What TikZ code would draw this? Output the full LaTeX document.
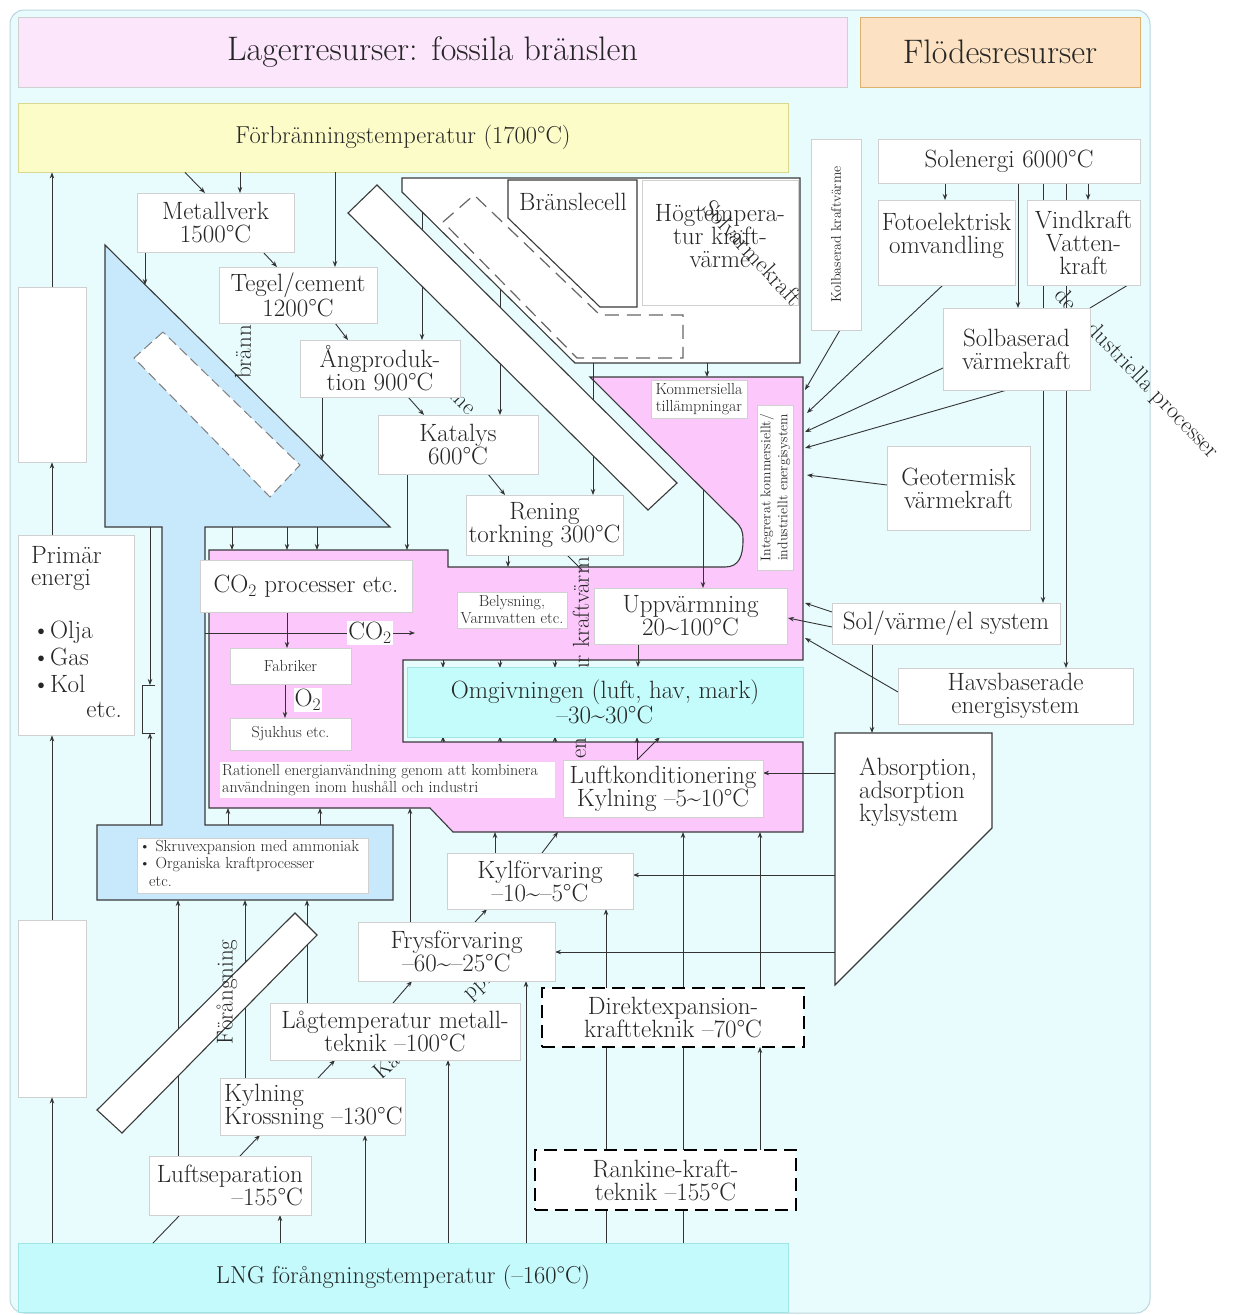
\documentclass[tikz,border=0pt]{standalone}
\usetikzlibrary{arrows.meta}
\newcommand\fz[2]{\fontsize{#1}{#2}\selectfont}
\definecolor{bgc}{HTML}{E8FCFD}
\definecolor{bgb}{HTML}{BBD5DD}
\definecolor{pinkT}{HTML}{FCE6FC}
\definecolor{orT}{HTML}{FCE2C2}
\definecolor{orB}{HTML}{E0B070}
\definecolor{yel}{HTML}{FCFCC8}
\definecolor{yelB}{HTML}{D8D890}
\definecolor{lngc}{HTML}{C4FAFC}
\definecolor{pk}{HTML}{FCC8FC}
\definecolor{bl}{HTML}{C8E8FC}
\definecolor{cy}{HTML}{C4FCFC}
\definecolor{cyB}{HTML}{A0E4E4}
\definecolor{bxb}{HTML}{D0D0D0}
\definecolor{lnc}{HTML}{333333}
\definecolor{shc}{HTML}{3A3A3A}
\definecolor{txt}{HTML}{262626}
\begin{document}
\begin{tikzpicture}[x=1pt,y=-1pt,
  every node/.style={text=txt},
  box/.style={draw=bxb, line width=0.8pt, fill=white, inner sep=0pt, align=center, font=\fz{25}{23}},
  sbox/.style={box, font=\fz{16}{17}},
  txtn/.style={inner sep=0pt, font=\fz{25}{23}},
  stxt/.style={inner sep=0pt, font=\fz{16}{17}},
  arr/.style={draw=lnc, line width=0.9pt, -{Stealth[length=6pt,width=4.5pt]}},
  conn/.style={draw=lnc, line width=0.9pt},
  shp/.style={draw=shc, line width=1.1pt},
  dbox/.style={box, draw=black, line width=2.2pt, dash pattern=on 13pt off 7pt},
  frag/.style={inner sep=0pt, font=\fz{23}{24}}
]
\useasboundingbox (0,0) rectangle (1235,1315);
\fill[white] (0,0) rectangle (1235,1315);
\draw[fill=bgc, draw=bgb, line width=1pt, rounded corners=14pt] (10,10) rectangle (1150,1313);

% headers
\node[box, fill=pinkT, minimum width=829, minimum height=70, font=\fz{34}{36}] (title1) at (432.5,52) {Lagerresurser: fossila bränslen};
\node[box, fill=orT, draw=orB, minimum width=280, minimum height=70, font=\fz{34}{36}] (title2) at (1000,52) {Flödesresurser};
\node[box, fill=yel, draw=yelB, minimum width=770, minimum height=69, font=\fz{24.5}{26}] (yellow) at (403,137.5) {Förbränningstemperatur (1700°C)};
\node[box, fill=lngc, draw=cyB, minimum width=770, minimum height=69, font=\fz{24.5}{26}] (lng) at (403,1277.5) {LNG förångningstemperatur (–160°C)};

% big shapes
\draw[shp, fill=bl] (105,245) -- (390,527) -- (205,527) -- (205,825) -- (393,825) -- (393,900) -- (97,900) -- (97,825) -- (162,825) -- (162,527) -- (105,527) -- cycle;
\draw[draw=gray, fill=white, line width=1pt, dash pattern=on 10pt off 5pt] (163,332) -- (134,358) -- (270,497) -- (300,465) -- cycle;
\draw[shp, fill=pk] (209,550) -- (448,550) -- (448,567) -- (725,567) .. controls (739,567) and (743,556) .. (743,540) .. controls (743,530) and (741,527) .. (735,521) -- (590,377) -- (803,377) -- (803,660) -- (403,660) -- (403,742) -- (803,742) -- (803,832) -- (453,832) -- (430,808) -- (209,808) -- cycle;
\draw[shp, fill=white] (402,178) -- (800,178) -- (800,363) -- (575,363) -- (402,192) -- cycle;
\node[box, minimum width=156, minimum height=125] (hog) at (720,242.5) {};
\node[txtn, align=center] (hogt) at (720,236) {Högtempera-\\tur kraft-\\värme};
\draw[shp, fill=white] (508,180) -- (637,180) -- (637,307) -- (600,307) -- (508,218) -- cycle;
\node[txtn] (bran) at (573,202) {Bränslecell};
\draw[draw=gray!80!black, line width=1.2pt, dash pattern=on 14pt off 8pt] (443,222) -- (474,195) -- (600,315) -- (683,315) -- (683,358) -- (577,358) -- cycle;
\draw[shp, fill=white] (835,733) -- (992,733) -- (992,828) -- (835,985) -- cycle;
\node[txtn, anchor=north west, align=left] (abst) at (859,758) {Absorption,\\adsorption\\kylsystem};

% text fragments (partly hidden)
\node[frag, rotate=90] (fragA) at (243,352) {bränn};
\node[frag, rotate=-45] (fragB) at (462,403) {me};
\node[frag, rotate=90, anchor=east] (fragC) at (581,557) {ur kraftvärm};
\node[frag, rotate=90] (fragD) at (581,748) {en};
\node[frag, rotate=-46, font=\fz{23.5}{24}] (fragE) at (1136,374) {de industriella processer};
\node[frag, rotate=42] (fragF) at (386,1066) {Ka};
\node[frag, rotate=42] (fragG) at (478,986) {ppl};

% left column boxes
\node[box, minimum width=68, minimum height=175] (lb1) at (52,374.5) {};
\node[box, minimum width=116, minimum height=200] (prim) at (76,635) {};
\node[box, minimum width=68, minimum height=177] (lb3) at (52,1008.5) {};
\node[txtn, anchor=west] (p1) at (31,555) {Primär};
\node[txtn, anchor=west] (p2) at (31,580) {energi};
\node[txtn, anchor=west] (p3) at (32,632) {\textbullet Olja};
\node[txtn, anchor=west] (p4) at (32,657) {\textbullet Gas};
\node[txtn, anchor=west] (p5) at (32,684) {\textbullet Kol};
\node[txtn, anchor=east] (p6) at (122,710) {etc.};

% connectors
\draw[arr] (lng.north -| lb3) -- (lb3.south);
\draw[arr] (lb3.north) -- (prim.south -| lb3);
\draw[arr] (prim.north -| lb1) -- (lb1.south);
\draw[arr] (lb1.north) -- (yellow.south -| lb1);

\draw[arr] (yellow.south -| 185,0) -- (205,193);
\draw[arr] (yellow.south -| 240,0) -- (240,193);
\draw[arr] (yellow.south -| 335,0) -- (335,267);
\draw[arr] (422,212) -- (422,340);
\draw[arr] (500,290) -- (500,415);
\draw[arr] (593,363) -- (593,495);
\draw[arr] (707,363) -- (707,377);
\draw[arr] (703,490) -- (703,588);
\draw[arr] (145,252) -- (145,285);
\draw[arr] (263,252) -- (277,267);
\draw[arr] (335,323) -- (348,340);
\draw[arr] (322,397) -- (322,460);
\draw[arr] (408,397) -- (424,415);
\draw[arr] (407,474) -- (407,550);
\draw[arr] (488,474) -- (505,495);
\draw[arr] (508,555) -- (508,567);
\draw[conn] (567,555) -- (582,570);
\foreach \x in {232,287,317} \draw[arr] (\x,527) -- (\x,550);
\draw[arr] (287,612) -- (287,648);
\draw[arr] (205,633) -- (415,633);
\draw[arr] (285,684) -- (285,718);
\foreach \x in {228,320} \draw[arr] (\x,825) -- (\x,808);
\draw[arr] (150,527) -- (150,685);
\draw[arr] (150,825) -- (150,733);
\draw[conn] (155,685) -- (142,685) -- (142,733) -- (155,733);
\draw[arr] (410,922) -- (410,808);
\foreach \x in {443,500,555} {\draw[arr] (\x,660) -- (\x,668); \draw[arr] (\x,742) -- (\x,736);}
\draw[arr] (638,644) -- (638,667);
\draw[arr] (637,760) -- (637,737);
\draw[arr] (637,760) -- (660,737);
\draw[arr] (495,853) -- (495,832);
\draw[arr] (542,853) -- (558,832);
\draw[arr] (683,988) -- (683,832);
\draw[arr] (760,988) -- (760,832);
\draw[arr] (606,988) -- (606,909);
\draw[arr] (835,773) -- (763,773);
\draw[arr] (835,875) -- (633,875);
\draw[arr] (835,952) -- (555,952);
\draw[conn] (606,1150) -- (606,1047);
\draw[conn] (683,1150) -- (683,1047);
\draw[arr] (760,1150) -- (760,1047);
\draw[conn] (606,1243) -- (606,1210);
\draw[conn] (683,1243) -- (683,1210);
\draw[arr] (526,1243) -- (526,981);
\draw[arr] (448,1243) -- (448,1060);
\draw[arr] (365,1243) -- (365,1135);
\draw[arr] (280,1243) -- (280,1215);
\draw[conn] (153,1243) -- (180,1215);
\draw[arr] (178,1156) -- (178,900);
\draw[arr] (240,1156) -- (260,1135);
\draw[arr] (245,1078) -- (245,900);
\draw[arr] (307,1003) -- (307,900);
\draw[arr] (318,1078) -- (335,1060);
\draw[arr] (393,1003) -- (412,981);
\draw[arr] (475,922) -- (487,909);

\draw[arr] (945,183) -- (945,200);
\draw[arr] (1088,183) -- (1088,200);
\draw[arr] (1018,183) -- (1018,308);
\draw[arr] (1043,183) -- (1043,603);
\draw[arr] (1066,183) -- (1066,668);
\draw[arr] (840,330) -- (805,390);
\draw[arr] (943,285) -- (807,413);
\draw[arr] (943,368) -- (805,432);
\draw[arr] (1007,390) -- (805,448);
\draw[arr] (887,485) -- (807,475);
\draw[conn] (1128,285) -- (1090,308);
\draw[arr] (832,612) -- (805,603);
\draw[arr] (832,627) -- (788,618);
\draw[arr] (898,692) -- (805,638);
\draw[arr] (872,644) -- (872,733);

% white bars
\draw[shp, fill=white] (377,185) -- (348,213) -- (648,510) -- (677,483) -- cycle;
\draw[shp, fill=white] (295,913) -- (317,935) -- (122,1133) -- (97,1110) -- cycle;

% boxes
\node[box, minimum width=157, minimum height=59] (metal) at (215.5,222.5) {Metallverk\\1500°C};
\node[box, minimum width=158, minimum height=56] (tegel) at (298,295) {Tegel/cement\\1200°C};
\node[box, minimum width=160, minimum height=57] (ang) at (380,368.5) {Ångproduk-\\tion 900°C};
\node[box, minimum width=160, minimum height=59] (kat) at (458,444.5) {Katalys\\600°C};
\node[box, minimum width=157, minimum height=60] (ren) at (544.5,525) {Rening\\torkning 300°C};
\node[box, minimum width=212, minimum height=52] (co2) at (306,586) {CO\textsubscript{2} processer etc.};
\node[sbox, minimum width=110, minimum height=36] (bel) at (512,610) {Belysning,\\Varmvatten etc.};
\node[box, minimum width=193, minimum height=56] (uppv) at (690.5,616) {Uppvärmning\\20\textasciitilde100°C};
\node[sbox, minimum width=121, minimum height=36] (fab) at (290.5,666) {Fabriker};
\node[sbox, minimum width=121, minimum height=32] (sjuk) at (290.5,734) {Sjukhus etc.};
\node[box, draw=none, minimum width=335, minimum height=36] (rat) at (387.5,780) {};
\node[stxt, anchor=west, align=left] (ratt) at (222,780) {Rationell energianvändning genom att kombinera\\användningen inom hushåll och industri};
\node[txtn, fill=white, inner sep=1pt] (co2lab) at (370,633) {CO\textsubscript{2}};
\node[txtn, fill=white, inner sep=1pt] (o2lab) at (308,700) {O\textsubscript{2}};
\node[box, fill=cy, draw=cyB, minimum width=396, minimum height=70] (omg) at (605,702) {Omgivningen (luft, hav, mark)\\–30\textasciitilde30°C};
\node[box, minimum width=200, minimum height=57] (luftk) at (663,788.5) {Luftkonditionering\\Kylning –5\textasciitilde10°C};
\node[box, minimum width=186, minimum height=56] (kylf) at (540,881) {Kylförvaring\\–10\textasciitilde–5°C};
\node[box, minimum width=197, minimum height=59] (frys) at (456.5,951.5) {Frysförvaring\\–60\textasciitilde–25°C};
\node[box, minimum width=250, minimum height=57] (lagt) at (395,1031.5) {Lågtemperatur metall-\\teknik –100°C};
\node[box, minimum width=185, minimum height=57] (kylkr) at (312.5,1106.5) {};
\node[txtn, anchor=west, align=left] (kylkrt) at (224,1106.5) {Kylning\\Krossning –130°C};
\node[box, minimum width=162, minimum height=59] (lufts) at (230,1185.5) {};
\node[txtn, anchor=east, align=right] (luftst) at (303,1185.5) {Luftseparation\\–155°C};
\node[dbox, minimum width=262, minimum height=59] (direkt) at (673,1017.5) {Direktexpansion-\\kraftteknik –70°C};
\node[dbox, minimum width=261, minimum height=60] (rank) at (665.5,1180) {Rankine-kraft-\\teknik –155°C};
\node[box, minimum width=231, minimum height=55] (skruv) at (252.5,865.5) {};
\node[stxt, anchor=north west, align=left, font=\fz{16}{17.5}] (skruvt) at (139,840) {\textbullet\ Skruvexpansion med ammoniak\\\textbullet\ Organiska kraftprocesser\\\hspace*{10pt}etc.};
\node[sbox, minimum width=96, minimum height=38] (komm) at (699,399) {Kommersiella\\tillämpningar};
\node[sbox, minimum width=36, minimum height=165] (integ) at (775,487.5) {};
\node[stxt, rotate=90, align=center, font=\fz{14}{17}] (integt) at (integ.center) {Integrerat kommersiellt/\\industriellt energisystem};

% right side boxes
\node[box, minimum width=262, minimum height=44] (sol) at (1009,161) {Solenergi 6000°C};
\node[box, minimum width=137, minimum height=85] (foto) at (946.5,242.5) {};
\node[txtn, align=center] (fotot) at (946.5,236) {Fotoelektrisk\\omvandling};
\node[box, minimum width=113, minimum height=85] (vind) at (1083.5,242.5) {Vindkraft\\Vatten-\\kraft};
\node[box, minimum width=147, minimum height=82] (solb) at (1016.5,349) {Solbaserad\\värmekraft};
\node[box, minimum width=143, minimum height=84] (geo) at (958.5,488) {Geotermisk\\värmekraft};
\node[box, minimum width=228, minimum height=41] (solv) at (946,623.5) {Sol/värme/el system};
\node[box, minimum width=235, minimum height=56] (havs) at (1015.5,696) {Havsbaserade\\energisystem};

% overlay texts
\node[frag, rotate=-47, font=\fz{24}{25}] (fragS) at (753,253) {Solvärmekraft};
\node[box, minimum width=50, minimum height=191] (kolb) at (836,234.5) {};
\node[stxt, rotate=90, font=\fz{14}{16}] (kolbt) at (kolb.center) {Kolbaserad kraftvärme};
\node[frag, rotate=90] (foran) at (227,992) {Förångning};
\end{tikzpicture}
\end{document}
